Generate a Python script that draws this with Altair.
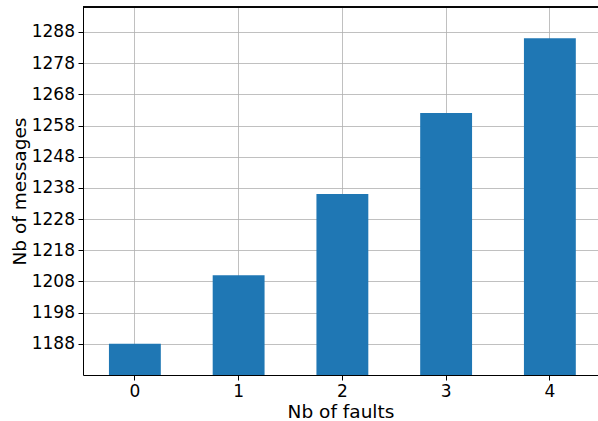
import altair as alt
import pandas as pd

faults = ["0", "1", "2", "3", "4"]
messages = [1188, 1210, 1236, 1262, 1286]
y_ticks = [1188, 1198, 1208, 1218, 1228, 1238, 1248, 1258, 1268, 1278, 1288]
y_min, y_max = 1178, 1296

df = pd.DataFrame({"faults": faults, "messages": messages})

W, H = 515, 368

bars = alt.Chart(df).mark_bar(color="#1f77b4", clip=True).encode(
    x=alt.X("faults:N", sort=faults,
            scale=alt.Scale(paddingInner=0.5, paddingOuter=0.232, align=0.539),
            axis=alt.Axis(title="Nb of faults", labelAngle=0, grid=True,
                          titleY=42, titleBaseline="alphabetic")),
    y=alt.Y("messages:Q",
            scale=alt.Scale(domain=[y_min, y_max], zero=False, nice=False),
            axis=alt.Axis(title="Nb of messages", values=y_ticks, format="d",
                          grid=True, titleX=-64, titleBaseline="middle")),
    y2=alt.datum(y_min),
)

top_spine = alt.Chart(df).mark_rule(color="black", strokeWidth=1).encode(
    x=alt.value(0), x2=alt.value(W), y=alt.value(0)
)

chart = alt.layer(bars, top_spine).properties(
    width=W, height=H,
    background="white",
    padding={"left": 83, "top": 7, "right": 0, "bottom": 46},
    autosize=alt.AutoSizeParams(type="none"),
).configure_view(
    strokeWidth=0
).configure_axis(
    labelFont="DejaVu Sans", titleFont="DejaVu Sans",
    labelFontSize=17, titleFontSize=18.5, titleFontWeight="normal",
    labelColor="black", titleColor="black",
    tickColor="black", domainColor="black", tickSize=5, labelPadding=3.5,
    gridColor="#b0b0b0", gridWidth=0.8, gridOpacity=1, zindex=1,
)

chart.save("out.html", embed_options={"renderer": "svg", "actions": False})
